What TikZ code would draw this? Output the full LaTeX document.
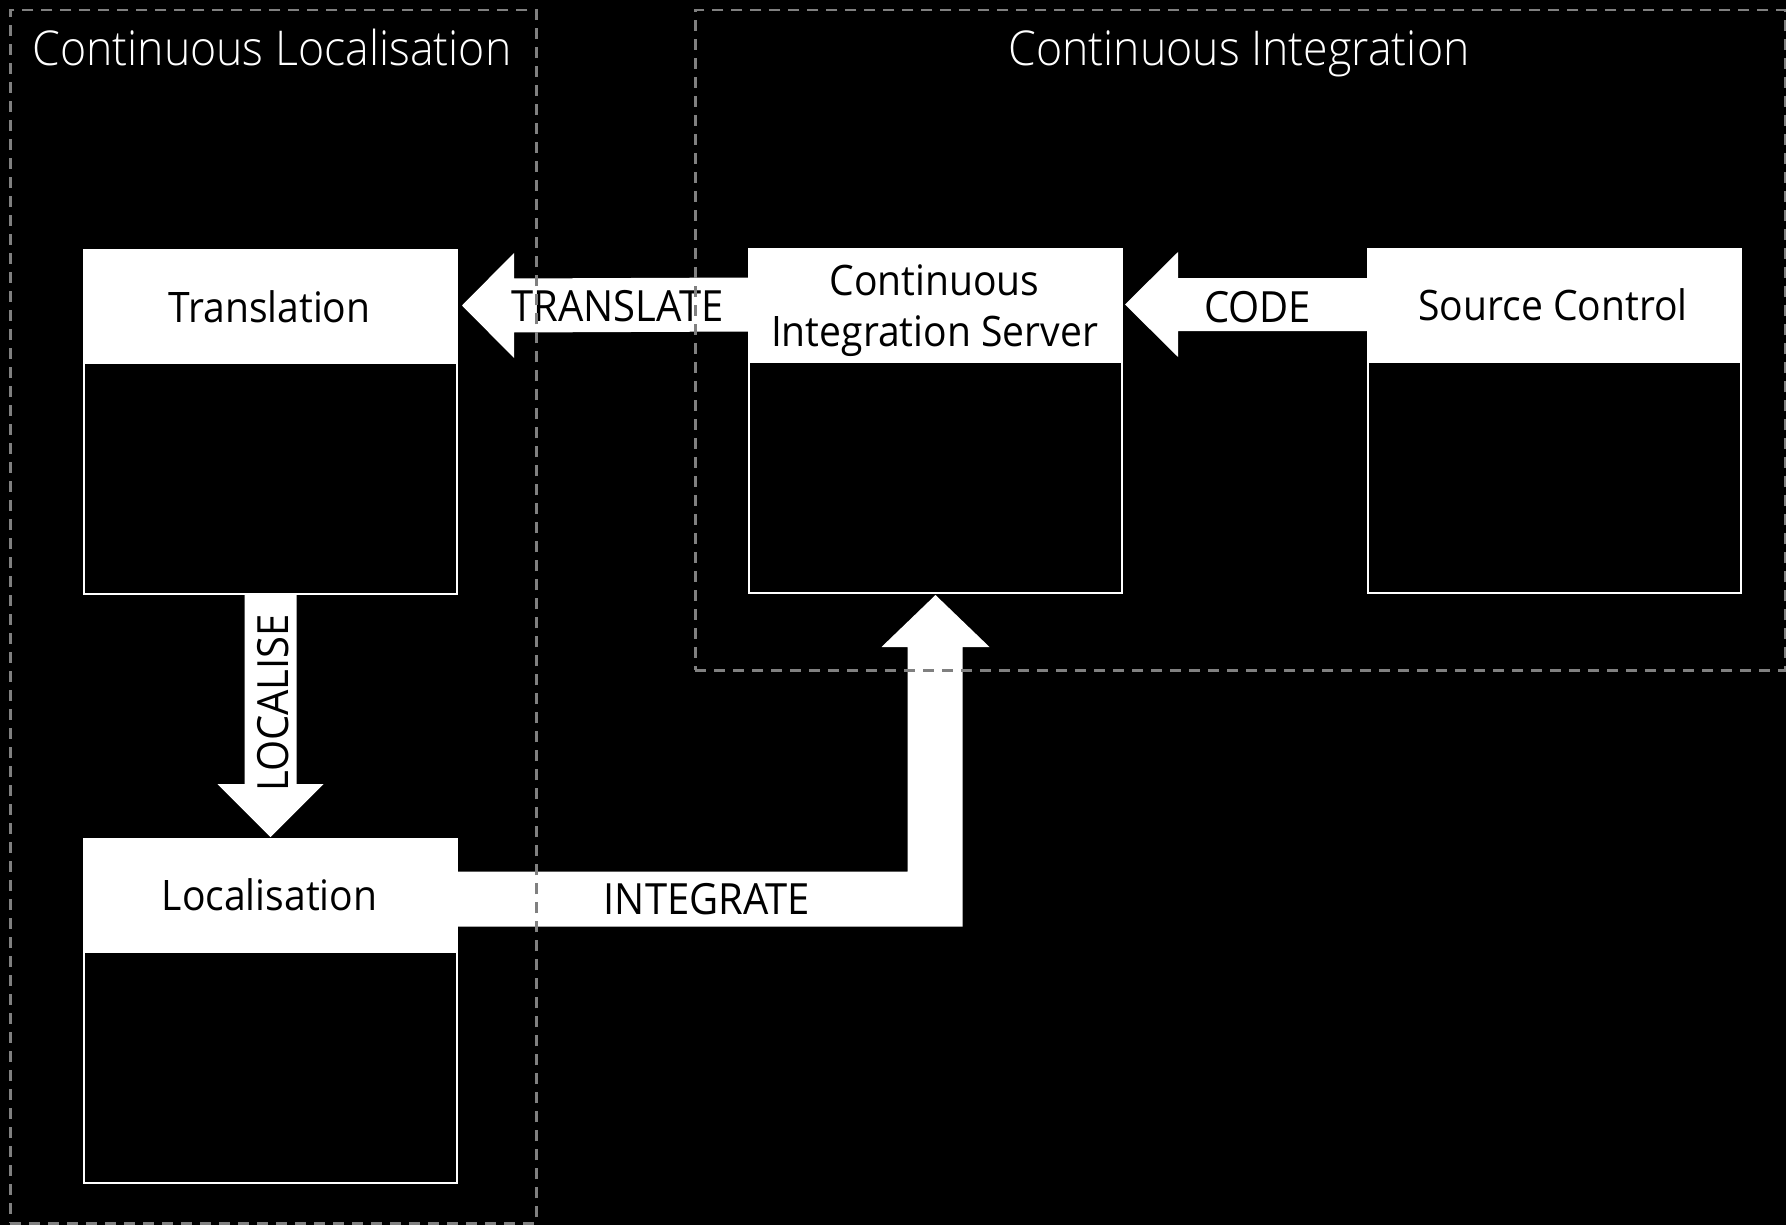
\documentclass[tikz,border=0pt]{standalone}
\usepackage{fontspec}
\setmainfont{Open Sans}[FakeStretch=0.93]
\newfontfamily\titlefont{Open Sans Light}[FakeStretch=0.93]
\usetikzlibrary{calc}
\begin{document}
\begin{tikzpicture}[x=1pt,y=-1pt,
  group/.style={draw=grpgray, line width=2.5pt, dash pattern=on 11pt off 8pt, minimum width=#1, anchor=north west, inner sep=0pt},
  head/.style={fill=white, draw=white, line width=2pt, minimum width=373pt, minimum height=111pt, inner sep=0pt, anchor=north west},
  body/.style={fill=black, draw=white, line width=2pt, minimum width=373pt, minimum height=231pt, inner sep=0pt, anchor=north},
  boxtext/.style={text=black, inner sep=0pt, anchor=base, font=\fontsize{42}{51}\selectfont},
  labeltext/.style={text=black, inner sep=0pt, anchor=base, font=\fontsize{43}{50}\selectfont},
  titletext/.style={text=white, inner sep=0pt, anchor=base, font=\titlefont\fontsize{48}{56}\selectfont},
  blockarrow/.style={fill=white}
]
\definecolor{grpgray}{HTML}{808080}
\fill[black] (0,0) rectangle (1786,1225);
\useasboundingbox (0,0) rectangle (1786,1225);

% boxes
\node[head] (transhead) at (83,249) {};
\node[body] (transbody) at (transhead.south) {};
\node[head] (cishead) at (748,248) {};
\node[body] (cisbody) at (cishead.south) {};
\node[head] (srchead) at (1367,248) {};
\node[body] (srcbody) at (srchead.south) {};
\node[head] (lochead) at (83,838) {};
\node[body] (locbody) at (lochead.south) {};

% box texts
\node[boxtext] (transtxt) at (269.5,322) {Translation};
\node[boxtext] (cistxta) at (934.5,295) {Continuous};
\node[boxtext] (cistxtb) at (934.5,346) {Integration Server};
\node[boxtext] (srctxt) at (1553,320) {Source Control};
\node[boxtext] (loctxt) at (269.5,910) {Localisation};

% TRANSLATE arrow
\coordinate (ta) at ($(transhead.east)+(4,0)$);
\fill[blockarrow] (ta) -- ($(ta)+(52,-52.5)$) -- ($(ta)+(52,-27)$) -- ($(cishead.west)+(0,-27)$)
  -- ($(cishead.west)+(0,27)$) -- ($(ta)+(52,27)$) -- ($(ta)+(52,52.5)$) -- cycle;
\node[labeltext] (translbl) at (617.5,321) {TRANSLATE};

% CODE arrow
\coordinate (ca) at ($(cishead.east)+(2,0)$);
\fill[blockarrow] (ca) -- ($(ca)+(53,-52.5)$) -- ($(ca)+(53,-26.5)$) -- ($(srchead.west)+(0,-26.5)$)
  -- ($(srchead.west)+(0,26.5)$) -- ($(ca)+(53,26.5)$) -- ($(ca)+(53,52.5)$) -- cycle;
\node[labeltext] (codelbl) at (1257.5,322) {CODE};

% LOCALISE arrow
\coordinate (la) at ($(lochead.north)+(0,-1)$);
\fill[blockarrow] (la) -- ($(la)+(-53,-53)$) -- ($(la)+(-26,-53)$) -- ($(transbody.south)+(-26,0)$)
  -- ($(transbody.south)+(26,0)$) -- ($(la)+(26,-53)$) -- ($(la)+(53,-53)$) -- cycle;
\node[labeltext, rotate=90] (loclbl) at (288,703) {LOCALISE};

% INTEGRATE arrow
\coordinate (ibt) at ($(lochead.east)+(0,-23)$);
\coordinate (ibb) at ($(lochead.east)+(0,32)$);
\coordinate (ib) at ($(cisbody.south)+(0,1)$);
\coordinate (ibl) at ($(ib)+(-28,0)$);
\coordinate (ibr) at ($(ib)+(27,0)$);
\fill[blockarrow] (ib) -- ($(ib)+(54,52)$) -- ($(ibr)+(0,52)$) -- (ibr |- ibb) -- (ibb) -- (ibt)
  -- (ibl |- ibt) -- ($(ibl)+(0,52)$) -- ($(ib)+(-54,52)$) -- cycle;
\node[labeltext] (intlbl) at (707,914) {INTEGRATE};

% groups
\node[group=526pt, minimum height=1213pt] (clgroup) at (9,9) {};
\node[group=1090pt, minimum height=660pt] (cigroup) at (694,9) {};
\node[titletext] (cltitle) at (272,66) {Continuous Localisation};
\node[titletext] (cititle) at (1239,66) {Continuous Integration};
\end{tikzpicture}
\end{document}
